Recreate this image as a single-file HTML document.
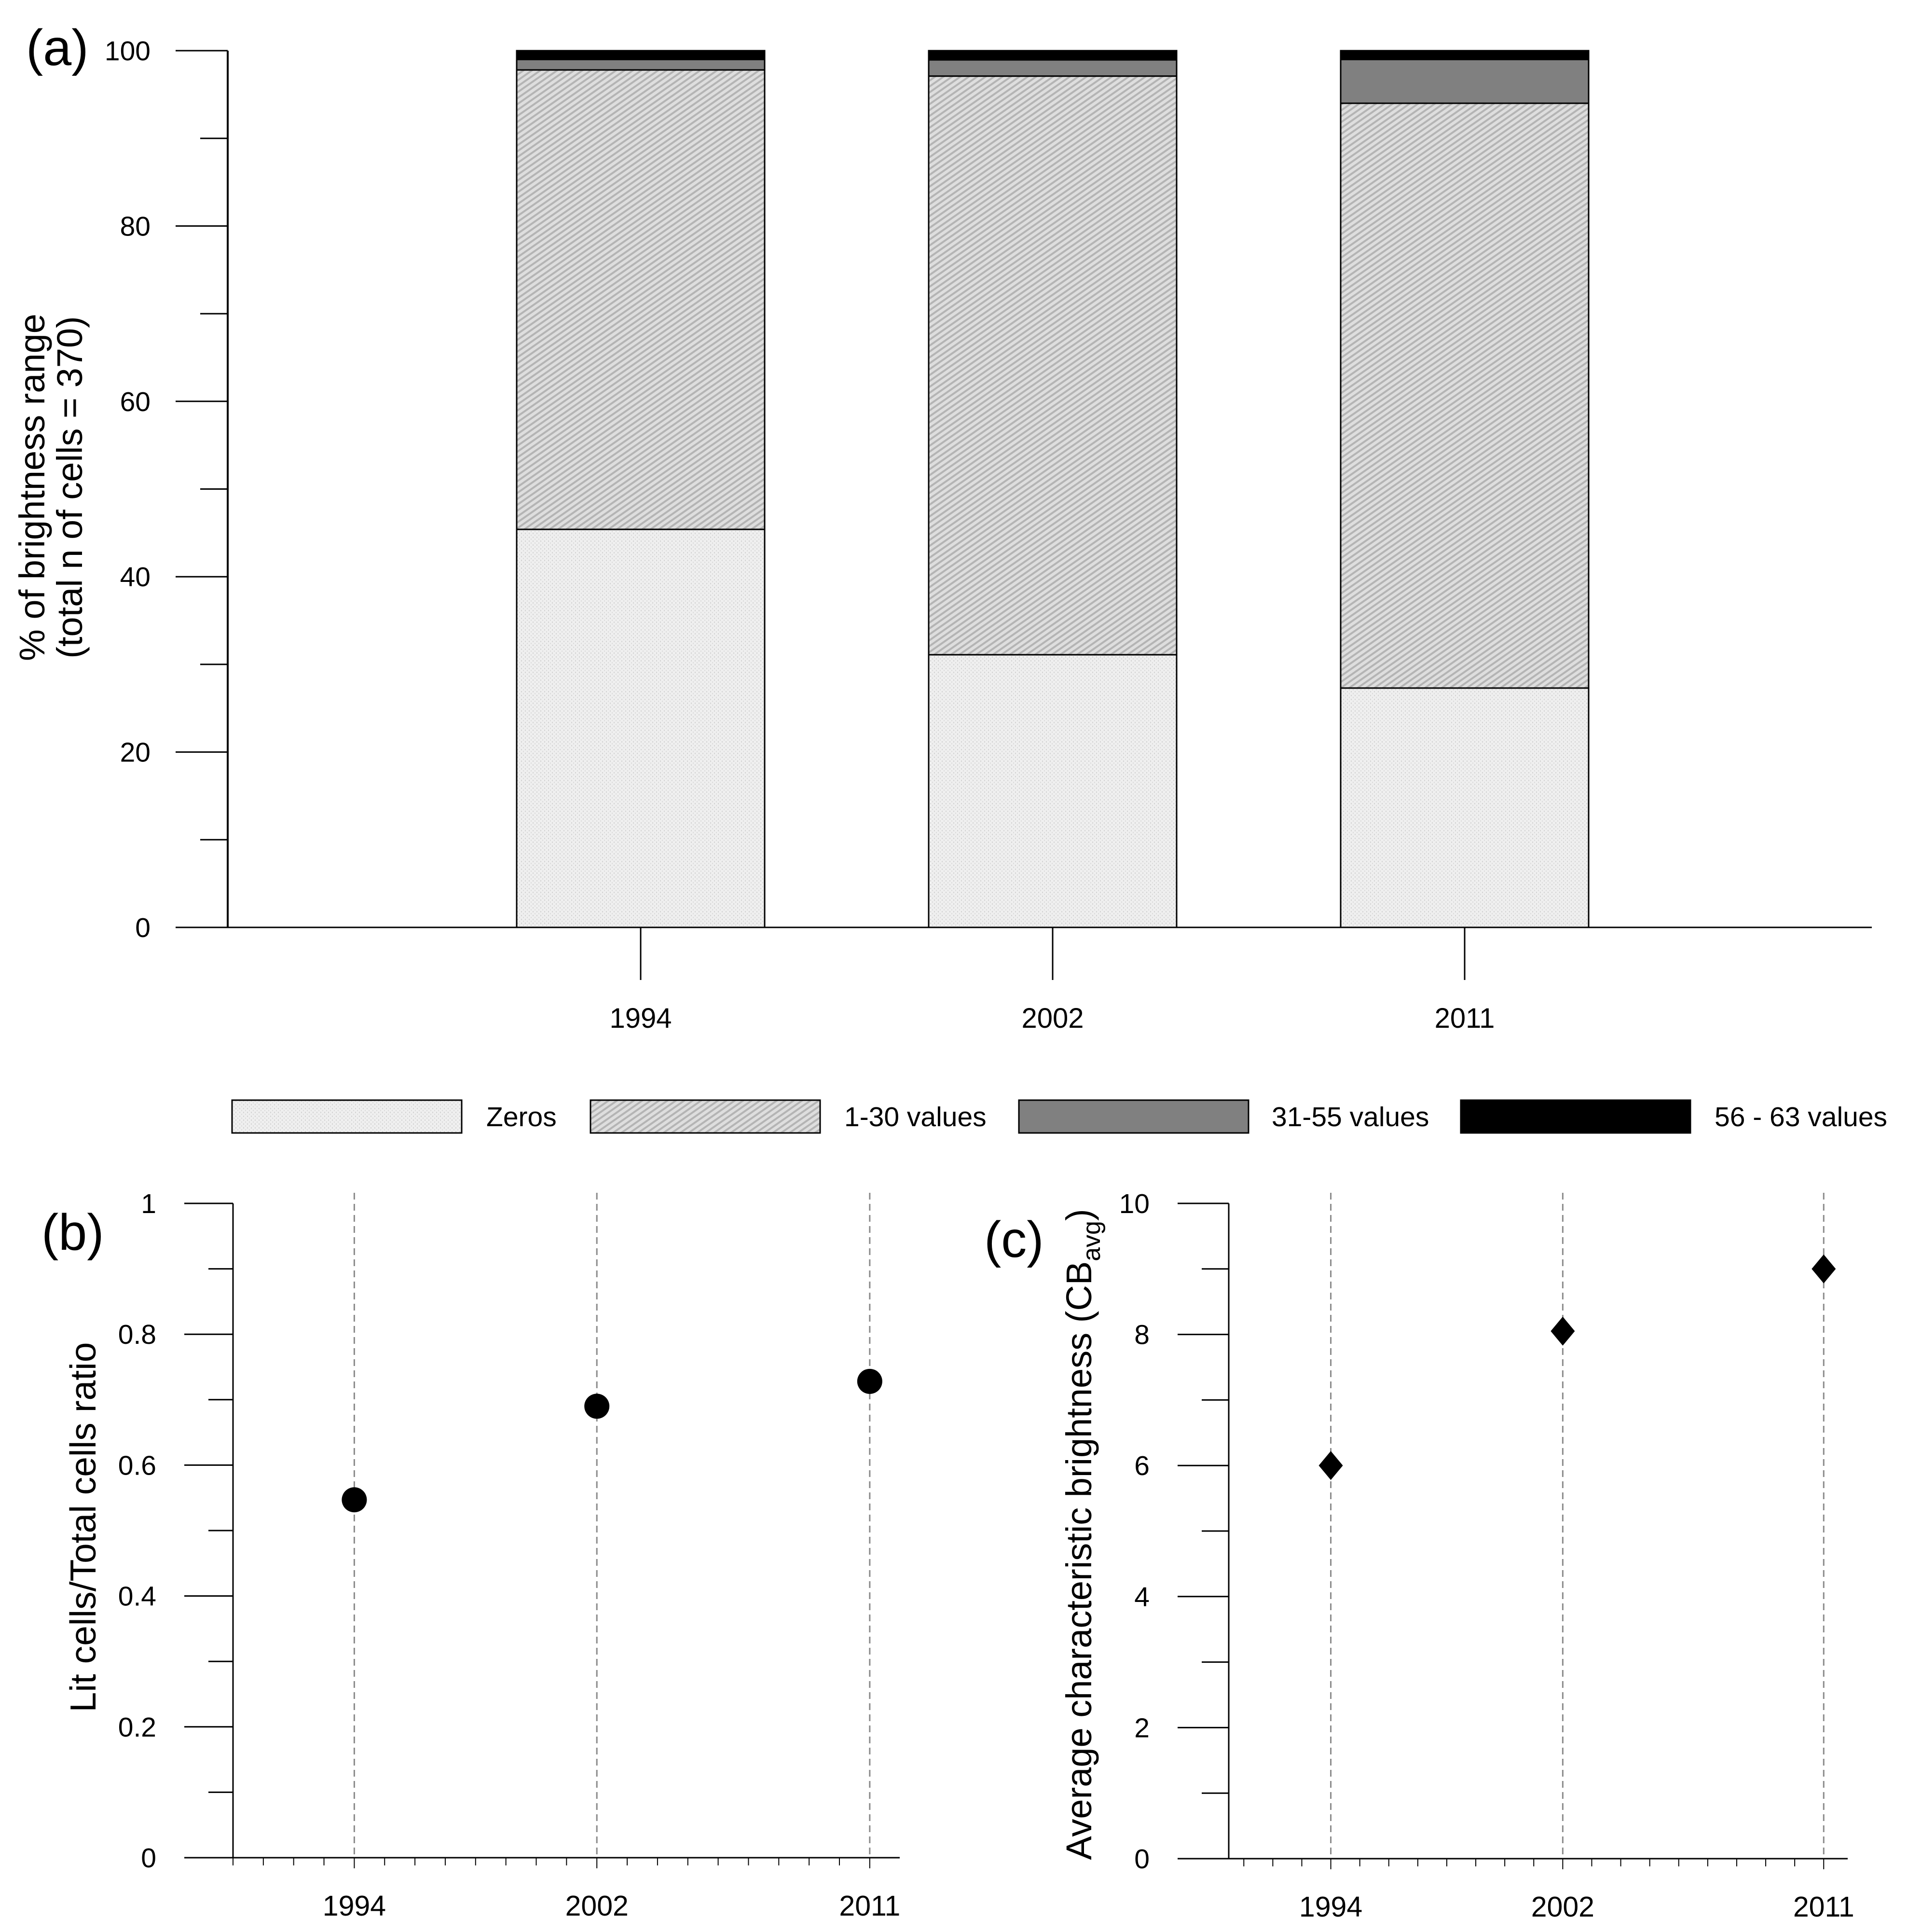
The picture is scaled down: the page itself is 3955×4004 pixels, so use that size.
<!DOCTYPE html>
<html><head><meta charset="utf-8">
<style>
html,body{margin:0;padding:0;background:#fff;}
svg{display:block;font-family:"Liberation Sans",Arial,sans-serif;}
</style></head>
<body>
<svg id="fig" width="3955" height="4004" viewBox="0 0 3955 4004" xmlns="http://www.w3.org/2000/svg">
<defs>
<pattern id="pZeros" patternUnits="userSpaceOnUse" width="8" height="8">
<rect width="8" height="8" fill="#efefef"/>
<rect x="0" y="0" width="2" height="3" fill="#d4d4d4"/>
<rect x="4" y="4" width="2" height="3" fill="#dcdcdc"/>
</pattern>
<pattern id="pHatch" patternUnits="userSpaceOnUse" width="10" height="10" patternTransform="rotate(-35)">
<rect width="10" height="10" fill="#dedede"/>
<rect x="0" y="0" width="10" height="4" fill="#b4b4b4"/>
</pattern>
</defs>
<g id="root"></g>
</svg>
<script>
// ---------- Panel (a) data ----------
const aYears = ["1994","2002","2011"];
const aZeros = [45.4, 31.1, 27.3];
const a1to30 = [52.4, 66.0, 66.7];
const a31to55 = [1.2, 1.85, 5.0];
const a56to63 = [1.0, 1.05, 1.0];
const aTicks = [0,20,40,60,80,100];
// ---------- Panel (b) data ----------
const bYears = [1994, 2002, 2011];
const bRatio = [0.547, 0.690, 0.728];
const bTicks = [0,0.2,0.4,0.6,0.8,1];
const bTickLabels = ["0","0.2","0.4","0.6","0.8","1"];
// ---------- Panel (c) data ----------
const cYears = [1994, 2002, 2011];
const cCB = [6.0, 8.05, 9.0];
const cTicks = [0,2,4,6,8,10];

const NS="http://www.w3.org/2000/svg";
const root=document.getElementById('root');
function el(tag,attrs,parent,text){const e=document.createElementNS(NS,tag);for(const k in attrs)e.setAttribute(k,attrs[k]);if(text!==undefined)e.textContent=text;(parent||root).appendChild(e);return e;}

// ===== Panel A =====
const gA=el('g',{});


const aY0=1922,aY100=105,aAxisX=472;
function ya(v){return aY0+(aY100-aY0)*v/100;}
const aCenters=[1328,2182,3036], barW=514;
function aX(i){return aCenters[0]+i*(aCenters[1]-aCenters[0]);}
let ax=el('line',{x1:aAxisX,y1:ya(0),x2:aAxisX,y2:ya(100),stroke:'#000','stroke-width':4},gA);

for(let v=0;v<=100;v+=10){
  const major=v%20===0;
  el('line',{x1:major?364:415,y1:ya(v),x2:aAxisX,y2:ya(v),stroke:'#000','stroke-width':3},gA);
}
aTicks.forEach(v=>{const t=el('text',{x:312,y:ya(v)+20,'font-size':57,'text-anchor':'end'},gA,String(v));
});
const xa=el('line',{x1:364,y1:ya(0),x2:3880,y2:ya(0),stroke:'#000','stroke-width':3},gA);

const fills=['url(#pZeros)','url(#pHatch)','#808080','#000'];
const segNames=['zeros','1-30','31-55','56-63'];
aYears.forEach((yr,i)=>{
  const cx=aX(i);
  const vals=[aZeros[i],a1to30[i],a31to55[i],a56to63[i]];
  let base=0;
  vals.forEach((v,k)=>{
    const r=el('rect',{x:cx-barW/2,y:ya(base+v),width:barW,height:ya(base)-ya(base+v),fill:fills[k],stroke:'#000','stroke-width':3},gA);
    
    
    base+=v;
  });
  el('line',{x1:cx,y1:ya(0),x2:cx,y2:2031,stroke:'#000','stroke-width':3},gA);
  const t=el('text',{x:cx,y:2130,'font-size':58,'text-anchor':'middle'},gA,yr);
  
});
let t=el('text',{x:0,y:0,'font-size':74,'text-anchor':'middle',transform:'translate(92,1010) rotate(-90)'},gA,'% of brightness range');

t=el('text',{x:0,y:0,'font-size':74,'text-anchor':'middle',transform:'translate(170,1010) rotate(-90)'},gA,'(total n of cells = 370)');

t=el('text',{x:54,y:135,'font-size':106},gA,'(a)');


// ===== Legend =====
const legX=[481,1224,2112,3028], legTX=[1008,1750,2636,3554];
const legText=['Zeros','1-30 values','31-55 values','56 - 63 values'];
legText.forEach((s,k)=>{
  const g=el('g',{});
  
  
  el('rect',{x:legX[k],y:2280,width:476,height:68,fill:fills[k],stroke:'#000','stroke-width':3},g);
  el('text',{x:legTX[k],y:2334,'font-size':57},g,s);
});

// ===== Scatter panel helper =====
function scatter(name,axisX,xLeft,xRight,yTop,yBot,yMax,yr0,pxPerYr,years,vals,ticks,labels,marker){
  const g=el('g',{});
  
  
  const Y=v=>yBot-(yBot-yTop)*v/yMax;
  const X=y=>axisX+(y-yr0)*pxPerYr;
  const ya_=el('line',{x1:axisX,y1:Y(0),x2:axisX,y2:Y(yMax),stroke:'#000','stroke-width':3},g);
  
  const step=(ticks[1]-ticks[0])/2;
  for(let i=0;i<=10;i++){const v=i*step;const major=i%2===0;
    el('line',{x1:major?xLeft:xLeft+50,y1:Y(v),x2:axisX,y2:Y(v),stroke:'#000','stroke-width':3},g);}
  ticks.forEach((v,i)=>{const tt=el('text',{x:xLeft-58,y:Y(v)+20,'font-size':57,'text-anchor':'end'},g,labels[i]);
    });
  const xx=el('line',{x1:xLeft,y1:Y(0),x2:xRight,y2:Y(0),stroke:'#000','stroke-width':3},g);
  
  for(let y=Math.ceil(yr0);X(y)<=xRight;y++){
    const major=years.indexOf(y)>=0;
    el('line',{x1:X(y),y1:Y(0),x2:X(y),y2:Y(0)+(major?22:16),stroke:'#000','stroke-width':2},g);
  }
  years.forEach((yr,i)=>{
    const dl=el('line',{x1:X(yr),y1:yTop-22,x2:X(yr),y2:Y(0),stroke:'#8a8a8a','stroke-width':3,'stroke-dasharray':'14 9'},g);
    
    const lab=el('text',{x:X(yr),y:Y(0)+120,'font-size':59,'text-anchor':'middle'},g,String(yr));
    
    let m;
    if(marker==='circle'){m=el('circle',{cx:X(yr),cy:Y(vals[i]),r:26,fill:'#000'},g);}
    else{const cx=X(yr),cy=Y(vals[i]);m=el('polygon',{points:`${cx},${cy-30} ${cx+25},${cy} ${cx},${cy+30} ${cx-25},${cy}`,fill:'#000'},g);}
    
    
  });
  return g;
}
const gB=scatter('b',483,382,1865,2494,3850,1,1990.0,62.85,bYears,bRatio,bTicks,bTickLabels,'circle');
const gC=scatter('c',2547,2441,3830,2494,3852,10,1990.48,60.1,cYears,cCB,cTicks,cTicks.map(String),'diamond');
t=el('text',{x:0,y:0,'font-size':75,'text-anchor':'middle',transform:'translate(198,3165) rotate(-90)'},gB,'Lit cells/Total cells ratio');

t=el('text',{x:86,y:2590,'font-size':106},gB,'(b)');

t=el('text',{x:2040,y:2605,'font-size':106},gC,'(c)');

t=el('text',{x:0,y:0,'font-size':74,'text-anchor':'middle',transform:'translate(2262,3180) rotate(-90)'},gC);

el('tspan',{},t,'Average characteristic brightness (CB');
el('tspan',{'font-size':52,dy:18},t,'avg');
el('tspan',{dy:-18},t,')');
</script>
</body></html>
